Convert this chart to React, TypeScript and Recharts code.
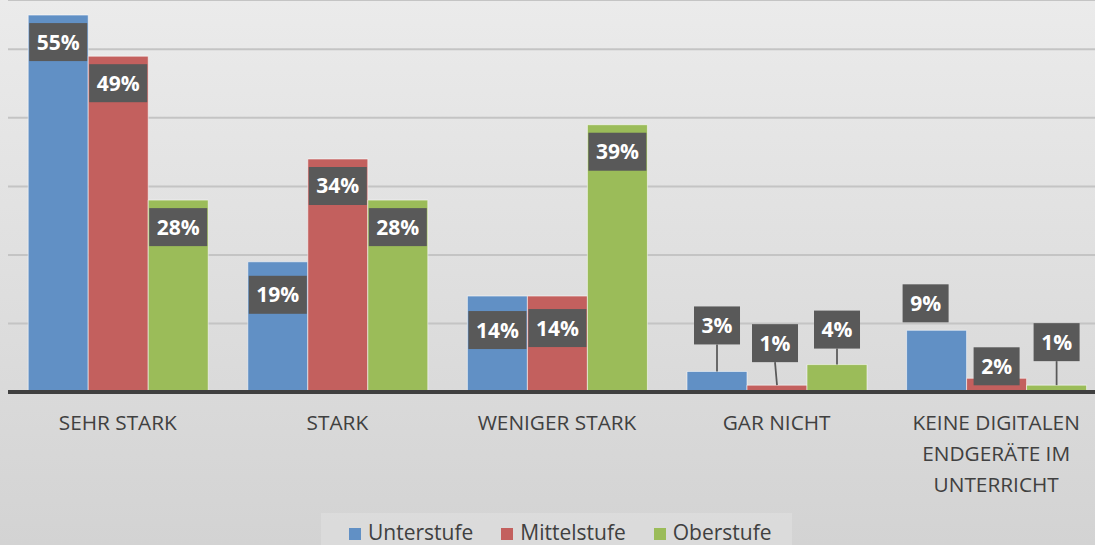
import React from "react";
import { BarChart, Bar, XAxis, YAxis, CartesianGrid, LabelList } from "recharts";

const categories = ["SEHR STARK", "STARK", "WENIGER STARK", "GAR NICHT", "KEINE DIGITALEN\nENDGERÄTE IM\nUNTERRICHT"];
const unterstufe = [55, 19, 14, 3, 9];
const mittelstufe = [49, 34, 14, 1, 2];
const oberstufe = [28, 28, 39, 4, 1];
const seriesNames = ["Unterstufe", "Mittelstufe", "Oberstufe"];
const yTicks = [0, 10, 20, 30, 40, 50];

const COLORS = ["#6190c5", "#c3605e", "#9bbc59"];
const data = categories.map((c, i) => ({ cat: c, u: unterstufe[i], m: mittelstufe[i], o: oberstufe[i] }));

// label placement tweaks (presentation only)
const INSIDE_OFFSET: Record<string, number> = { "0-1": 14, "0-2": 15, "1-2": 13 };
const OUTSIDE: Record<string, { dx: number; gap: number }> = {
  "0-3": { dx: 0, gap: 27 },
  "1-3": { dx: -2, gap: 23 },
  "2-3": { dx: 0, gap: 16 },
  "0-4": { dx: -11, gap: 8 },
  "1-4": { dx: 0, gap: -7 },
  "2-4": { dx: 0, gap: 24 },
};

const makeLabel = (s: number) => (props: any) => {
  const { x, y, width, value, index } = props;
  const text = `${value}%`;
  const digits = String(value).length;
  const bw = 34 + 12 * digits;
  const bh = 38;
  const cx = Number(x) + Number(width) / 2;
  const top = Number(y);
  const key = `${s}-${index}`;
  if (OUTSIDE[key]) {
    const o = OUTSIDE[key];
    const bx = cx + o.dx - bw / 2;
    const by = top - o.gap - bh;
    return (
      <g>
        {o.gap > 10 && (
          <line x1={cx + o.dx} y1={by + bh} x2={cx} y2={top} stroke="#595959" strokeWidth={1.75} />
        )}
        <rect x={bx} y={by} width={bw} height={bh} fill="#595959" />
        <text x={cx + o.dx} y={by + bh / 2 + 7.5} textAnchor="middle" fill="#ffffff" fontFamily="Open Sans" fontWeight={700} fontSize={21}>
          {text}
        </text>
      </g>
    );
  }
  const off = INSIDE_OFFSET[key] ?? 8;
  const by = top + off;
  return (
    <g>
      <rect x={cx - bw / 2} y={by} width={bw} height={bh} fill="#595959" />
      <text x={cx} y={by + bh / 2 + 7.5} textAnchor="middle" fill="#ffffff" fontFamily="Open Sans" fontWeight={700} fontSize={21}>
        {text}
      </text>
    </g>
  );
};

const Tick = (props: any) => {
  const { x, y, payload } = props;
  const lines = String(payload.value).split("\n");
  return (
    <text x={x} y={Number(y) + 38} textAnchor="middle" fill="#404040" fontFamily="Open Sans" fontSize={20.8}>
      {lines.map((l, i) => (
        <tspan key={i} x={x} dy={i === 0 ? 0 : 31}>
          {l}
        </tspan>
      ))}
    </text>
  );
};

export default function App() {
  return (
    <div
      style={{
        position: "absolute",
        left: 0,
        top: 0,
        width: 1095,
        height: 545,
        overflow: "hidden",
        background: "linear-gradient(180deg, #ebebeb 0%, #dfdfdf 50%, #d3d3d3 100%)",
      }}
    >
      <BarChart
        width={1106}
        height={545}
        data={data}
        margin={{ top: 0, right: 0, bottom: 33, left: 8 }}
        barCategoryGap="9.2%"
        barGap={0}
      >
        <CartesianGrid vertical={false} stroke="#c4c4c4" strokeWidth={2} />
        <YAxis hide domain={[0, 57.2]} ticks={yTicks} type="number" />
        <Bar dataKey="u" name={seriesNames[0]} fill={COLORS[0]} stroke="rgba(255,255,255,0.55)" strokeWidth={1} isAnimationActive={false}>
          <LabelList dataKey="u" content={makeLabel(0)} />
        </Bar>
        <Bar dataKey="m" name={seriesNames[1]} fill={COLORS[1]} stroke="rgba(255,255,255,0.55)" strokeWidth={1} isAnimationActive={false}>
          <LabelList dataKey="m" content={makeLabel(1)} />
        </Bar>
        <Bar dataKey="o" name={seriesNames[2]} fill={COLORS[2]} stroke="rgba(255,255,255,0.55)" strokeWidth={1} isAnimationActive={false}>
          <LabelList dataKey="o" content={makeLabel(2)} />
        </Bar>
        <XAxis
          dataKey="cat"
          height={120}
          interval={0}
          tickLine={false}
          tickSize={0}
          tickMargin={0}
          axisLine={{ stroke: "#404040", strokeWidth: 4 }}
          tick={<Tick />}
        />
      </BarChart>
      <div
        style={{
          position: "absolute",
          left: 321,
          top: 513,
          width: 471,
          height: 32,
          background: "rgba(255,255,255,0.18)",
          display: "flex",
          alignItems: "flex-start",
          paddingLeft: 28,
          paddingTop: 8.5,
          boxSizing: "border-box",
          fontFamily: "Open Sans",
          fontSize: 21,
          lineHeight: "21px",
          color: "#404040",
        }}
      >
        {seriesNames.map((n, i) => (
          <div key={n} style={{ display: "flex", alignItems: "center", marginRight: 28, height: 21 }}>
            <span style={{ width: 12, height: 12, background: COLORS[i], display: "inline-block", marginRight: 7, position: "relative", top: 2 }} />
            <span style={{ lineHeight: "21px" }}>{n}</span>
          </div>
        ))}
      </div>
    </div>
  );
}
